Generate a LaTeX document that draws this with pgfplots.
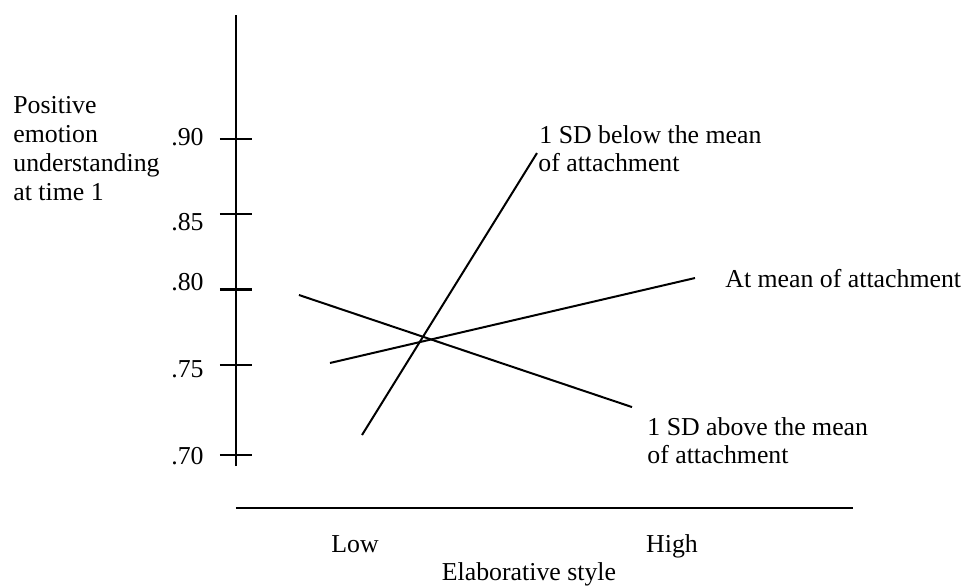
\documentclass[border=0pt]{standalone}
\usepackage{fontspec}
\setmainfont{Liberation Serif}
\usepackage{pgfplots}
\pgfplotsset{compat=1.18}
\begin{document}
\begin{tikzpicture}[font=\fontsize{12.9}{15}\selectfont]
% page = 965 x 585 px at 0.5pt per px, axis box corner at px (236,466)
\useasboundingbox (-118pt,-59.5pt) rectangle (364.5pt,233pt);
\begin{axis}[
    at={(0,0)}, anchor=south west,
    scale only axis,
    width=308.5pt, height=225.5pt,
    xmin=-0.37539, xmax=1.57098,
    ymin=0.68271, ymax=0.98258,
    axis x line=none, axis y line=left,
    axis line style={-, line width=1.1pt},
    xtick=\empty,
    ytick={0.690,0.75,0.80,0.85,0.90},
    yticklabels={},
    tick align=center,
    major tick length=16pt,
    ytick style={black, line width=1.1pt},
    clip=false,
  ]
  % 1 SD below the mean of attachment
  \addplot[black, line width=1pt] coordinates {(0.0221,0.7033) (0.5741,0.8908)};
  % at mean of attachment
  \addplot[black, line width=1pt] coordinates {(-0.0789,0.7512) (1.0726,0.8077)};
  % 1 SD above the mean of attachment
  \addplot[black, line width=1pt] coordinates {(-0.1767,0.7964) (0.8738,0.7219)};
\end{axis}
\begin{scope}[x=0.5pt, y=-0.5pt, shift={(-118pt,233pt)}]
  \draw[line width=1.1pt] (236,508) -- (853,508);
  % tick labels
  \node[anchor=east, inner sep=0] at (204,137) {.90};
  \node[anchor=east, inner sep=0] at (204,222) {.85};
  \node[anchor=east, inner sep=0] at (204,282) {.80};
  \node[anchor=east, inner sep=0] at (204,369) {.75};
  \node[anchor=east, inner sep=0] at (204,456) {.70};
  % y label
  \node[anchor=base west, inner sep=0] at (13,113) {Positive};
  \node[anchor=base west, inner sep=0] at (13,142) {emotion};
  \node[anchor=base west, inner sep=0] at (13,171) {understanding};
  \node[anchor=base west, inner sep=0] at (13,200) {at time 1};
  % x labels
  \node[anchor=base, inner sep=0] at (355,552) {Low};
  \node[anchor=base, inner sep=0] at (672,552) {High};
  \node[anchor=base, inner sep=0] at (529,580) {Elaborative style};
  % line labels
  \node[anchor=base west, inner sep=0] at (539,143) {1 SD below the mean};
  \node[anchor=base west, inner sep=0] at (538,171) {of attachment};
  \node[anchor=base west, inner sep=0] at (725,287) {At mean of attachment};
  \node[anchor=base west, inner sep=0] at (647,435) {1 SD above the mean};
  \node[anchor=base west, inner sep=0] at (647,463) {of attachment};
\end{scope}
\end{tikzpicture}
\end{document}
